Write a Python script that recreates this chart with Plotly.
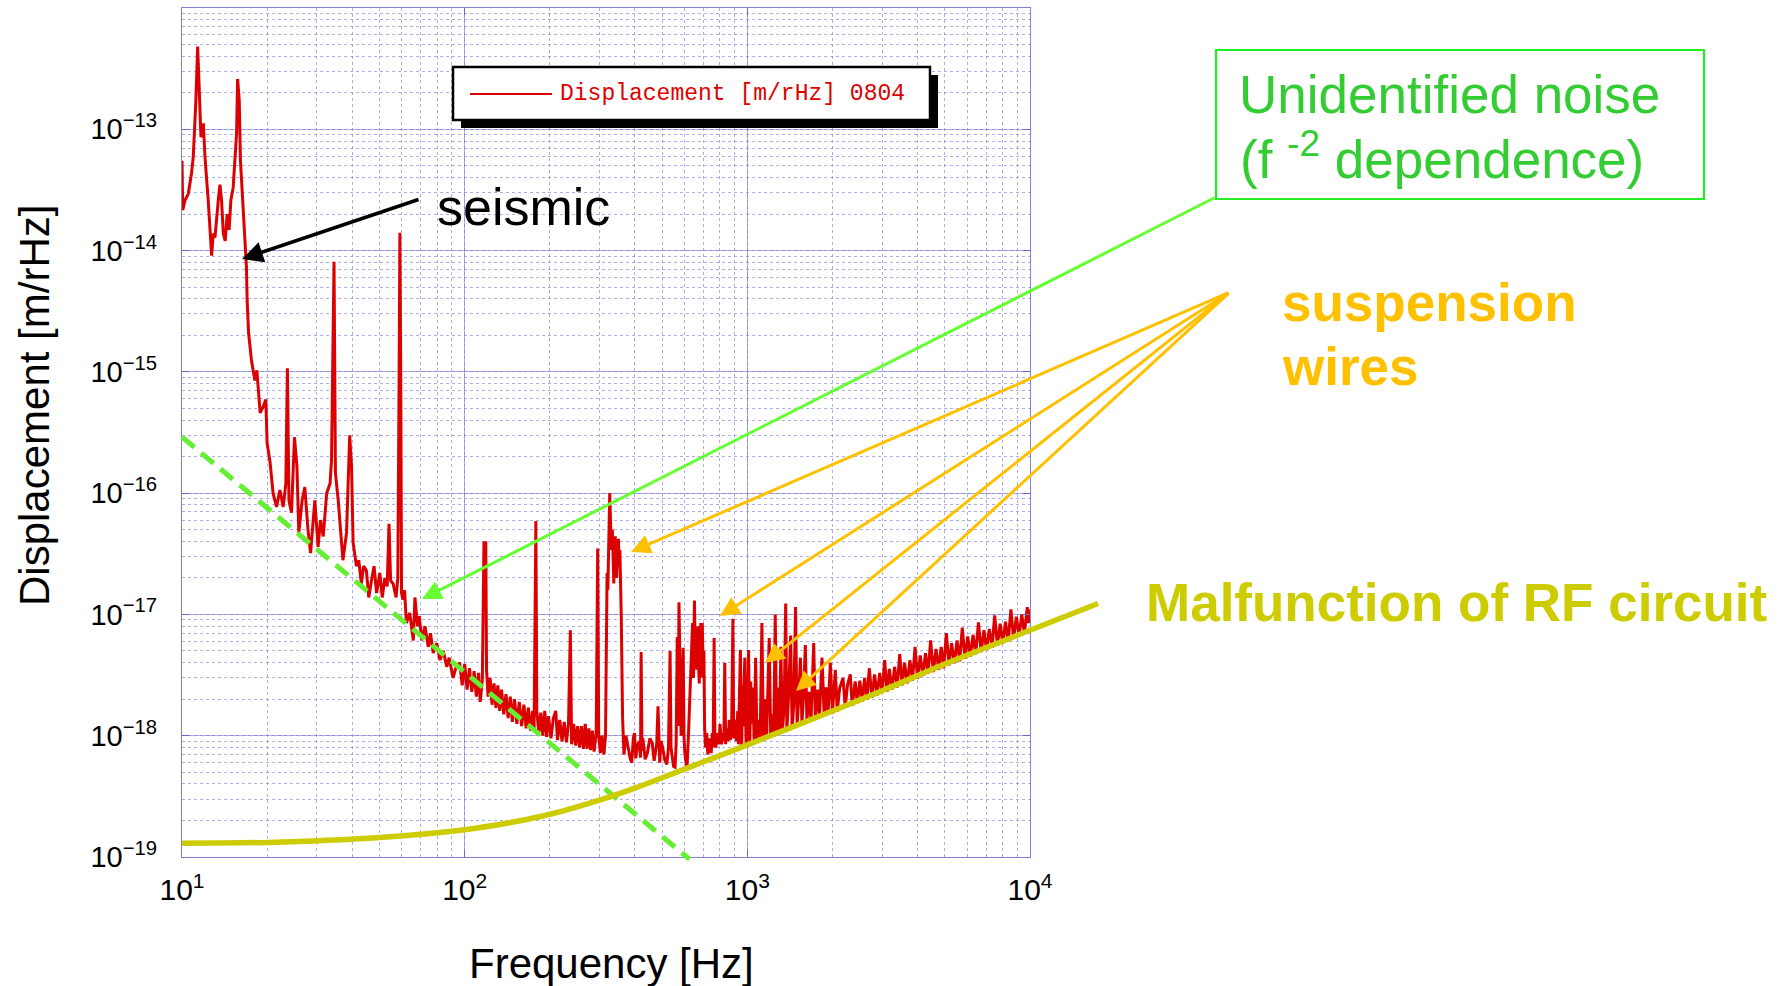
import plotly.graph_objects as go

W, H = 1780, 986

# ---------------- data ----------------
low_freq = [10.0, 10.06, 10.25, 10.53, 10.8, 10.96, 11.2, 11.36, 11.48, 11.67, 11.9, 12.06, 12.38, 12.73,
            12.9, 13.08, 13.44, 13.62, 13.8, 14.0, 14.22, 14.45, 14.68, 14.89, 15.17, 15.38, 15.6, 15.73,
            15.94, 16.1, 16.38, 16.7, 16.9, 17.0, 17.2, 17.6, 18.1, 18.4, 18.9, 19.4, 19.8, 20.0, 20.5,
            21.0, 21.6, 22.2, 22.8, 23.3, 23.6, 23.9, 24.4, 25.0, 25.5, 25.9, 26.6, 27.2, 27.9, 28.5,
            29.5, 30.3, 30.9, 31.6, 32.5, 33.4, 33.8, 34.5, 34.9, 35.7, 36.4, 37.1, 38.2, 38.7, 39.2,
            39.8, 40.3, 41.4, 42.2, 43.1, 43.9, 44.9, 45.8, 46.8, 47.8, 48.8, 50.1, 51.1, 52.2, 53.2,
            54.0, 54.7, 55.8, 57.2, 58.0, 58.6, 59.0, 59.4, 59.8, 60.5, 61.3, 62.2, 63.9, 65.8, 66.7,
            68.1, 69.1, 70.5, 72.4, 74.3, 75.7, 77.4, 79.6, 81.8, 84.0, 86.4, 88.1, 91.0, 93.3]
low_disp = [5.5e-14, 2.15e-14, 2.6e-14, 2.95e-14, 4.3e-14, 5.9e-14, 1.74e-13, 4.8e-13, 2.5e-13, 8.6e-14,
            1.12e-13, 5.9e-14, 2.6e-14, 9.1e-15, 1.38e-14, 1.28e-14, 2.6e-14, 3.5e-14, 2.6e-14, 1.38e-14,
            1.2e-14, 2.0e-14, 1.48e-14, 2.6e-14, 3.3e-14, 6.3e-14, 9.3e-14, 2.6e-13, 1.74e-13, 5.5e-14,
            2.6e-14, 1.07e-14, 7.4e-15, 3.9e-15, 2.1e-15, 1.26e-15, 8.5e-16, 1.03e-15, 4.6e-16, 5.2e-16,
            5.9e-16, 2.6e-16, 1.78e-16, 1.0e-16, 7.7e-17, 1.06e-16, 7.7e-17, 1.2e-16, 1.07e-15, 8.7e-17,
            6.9e-17, 2.9e-16, 1.66e-16, 4.7e-17, 8.7e-17, 1.12e-16, 5.0e-17, 3.2e-17, 8.7e-17, 3.6e-17,
            6.0e-17, 4.4e-17, 1.0e-16, 1.2e-16, 1.86e-16, 8.1e-15, 1.47e-16, 8.7e-17, 5.3e-17, 2.8e-17,
            4.7e-17, 1.47e-16, 3.0e-16, 1.66e-16, 3.9e-17, 2.5e-17, 2.8e-17, 1.8e-17, 2.5e-17, 2.3e-17,
            1.38e-17, 1.9e-17, 2.5e-17, 1.5e-17, 2.2e-17, 1.38e-17, 2.0e-17, 1.7e-17, 5.6e-17, 1.9e-17,
            1.8e-17, 1.38e-17, 2.0e-17, 8.1e-16, 1.4e-14, 1.0e-15, 1.5e-17, 1.32e-17, 1.58e-17, 8.5e-18,
            1.03e-17, 6.1e-18, 1.38e-17, 8.0e-18, 9.7e-18, 6.1e-18, 8.0e-18, 5.4e-18, 7.0e-18, 4.8e-18,
            5.8e-18, 4.2e-18, 5.0e-18, 3.7e-18, 4.4e-18, 3.0e-18, 3.7e-18]

mid_freq = [96, 98, 100, 102, 104, 106, 108, 110, 112, 113.5, 115.5, 117, 118.8, 119.5, 121, 123, 125,
            127, 129, 131, 133, 135, 137.5, 140, 142.5, 145, 147.5, 150, 153, 156, 159, 162, 165, 168,
            171, 174, 176, 177.3, 178.6, 180, 183, 186, 189, 192, 195, 198, 202, 206, 210, 213, 217,
            221, 225, 229, 233, 236.5, 239, 243, 247, 251, 255, 259, 263, 267, 271, 275, 279, 283, 287,
            292, 295.5, 298, 302, 306, 311, 315, 319, 321, 323, 326, 328, 330, 333, 335, 337, 339,
            341, 343, 345, 347, 350, 352, 354, 358, 362, 366, 372, 379, 385, 390, 395, 399, 403, 407,
            414, 419, 421, 424, 427, 435, 443, 452, 461, 468, 474, 478, 483, 487, 490, 495, 501, 510,
            519, 526, 533, 537, 541, 548, 555, 560, 565, 569, 573, 576, 579, 583, 587, 593, 597, 601,
            607, 612, 618, 622, 628, 634, 640, 645, 650, 654, 658, 662, 667, 672, 676, 680, 685, 688,
            693, 697, 702, 706, 711, 718, 725, 734, 745, 752, 757, 763, 768, 773, 785, 795, 800, 810,
            820, 826, 832, 838, 843, 855, 863, 870, 880, 889, 895, 905, 915, 925]
mid_disp = [4.0e-18, 2.6e-18, 3.9e-18, 2.4e-18, 3.6e-18, 2.3e-18, 3.4e-18, 2.1e-18, 3.3e-18, 1.9e-18,
            2.9e-18, 3.9e-17, 3.9e-17, 3.5e-18, 2.1e-18, 3.0e-18, 1.8e-18, 2.7e-18, 1.7e-18, 2.6e-18,
            1.6e-18, 2.4e-18, 1.5e-18, 2.2e-18, 1.4e-18, 2.1e-18, 1.3e-18, 2.0e-18, 1.25e-18, 1.9e-18,
            1.2e-18, 1.8e-18, 1.15e-18, 1.7e-18, 1.1e-18, 1.6e-18, 1.1e-18, 1.15e-17, 5.9e-17, 1.6e-18,
            1.05e-18, 1.55e-18, 1.0e-18, 1.6e-18, 0.98e-18, 1.45e-18, 0.95e-18, 1.4e-18, 1.6e-18, 0.92e-18,
            1.35e-18, 0.9e-18, 1.3e-18, 0.88e-18, 1.25e-18, 7.4e-18, 0.85e-18, 1.25e-18, 0.83e-18, 1.2e-18,
            0.8e-18, 1.2e-18, 0.78e-18, 1.25e-18, 0.78e-18, 1.15e-18, 0.76e-18, 1.1e-18, 0.74e-18, 1.05e-18,
            3.5e-17, 1.0e-18, 0.72e-18, 1.0e-18, 0.7e-18, 1.0e-18, 2.2e-17, 1.6e-17, 3.0e-17, 1.0e-16,
            6.0e-17, 3.4e-17, 5.0e-17, 2.4e-17, 1.8e-17, 3.5e-17, 4.4e-17, 2.3e-17, 2.0e-17, 3.0e-17,
            4.2e-17, 2.5e-17, 3.4e-17, 1.0e-17, 1.4e-18, 0.7e-18, 1.0e-18, 0.8e-18, 0.65e-18, 0.6e-18,
            0.95e-18, 1.05e-18, 0.65e-18, 0.8e-18, 0.9e-18, 0.66e-18, 4.9e-18, 0.75e-18, 0.95e-18, 0.64e-18,
            0.72e-18, 0.95e-18, 0.87e-18, 0.62e-18, 0.8e-18, 0.85e-18, 1.75e-18, 0.66e-18, 0.6e-18, 0.9e-18,
            0.81e-18, 0.64e-18, 0.58e-18, 0.8e-18, 5.0e-18, 0.8e-18, 0.7e-18, 0.56e-18, 0.55e-18, 0.85e-18,
            6.5e-18, 1.2e-18, 1.26e-17, 3.0e-18, 2.7e-18, 1.0e-18, 2.5e-18, 5.3e-18, 1.0e-18, 0.72e-18,
            0.6e-18, 0.56e-18, 0.9e-18, 1.4e-18, 1.9e-18, 4.0e-18, 8.5e-18, 3.0e-18, 1.3e-17, 5.0e-18,
            6.5e-18, 3.5e-18, 8.0e-18, 4.0e-18, 2.7e-18, 7.0e-18, 8.5e-18, 3.0e-18, 8.5e-18, 4.0e-18,
            5.0e-18, 1.2e-18, 0.8e-18, 1.05e-18, 0.7e-18, 0.95e-18, 0.72e-18, 1.05e-18, 0.8e-18, 6.4e-18,
            0.85e-18, 0.8e-18, 1.05e-18, 0.85e-18, 1.25e-18, 0.85e-18, 1.05e-18, 0.9e-18, 4.0e-18, 0.85e-18,
            1.15e-18, 0.9e-18, 1.35e-18, 0.92e-18, 1.15e-18, 9.2e-18, 0.95e-18, 1.35e-18, 0.9e-18, 1.6e-18]

high_freq = [930, 945, 955, 962, 968, 975, 980, 990, 1000, 1010, 1020, 1028, 1035, 1045, 1058, 1070, 1082,
             1095, 1110, 1126, 1140, 1155, 1170, 1195, 1210, 1225, 1240, 1255, 1270, 1285, 1300, 1314,
             1330, 1350, 1367, 1380, 1400, 1423, 1440, 1460, 1481, 1500, 1520, 1541, 1560, 1580, 1604,
             1625, 1650, 1680, 1717, 1740, 1770, 1800, 1837, 1870, 1900, 1930, 1966, 2000, 2047, 2080,
             2120, 2180, 2220, 2260, 2313, 2350, 2408, 2450, 2500, 2550, 2600, 2650, 2700, 2760, 2820,
             2880, 2940, 3000, 3060, 3120, 3180, 3250, 3320, 3390, 3460, 3530, 3600, 3680, 3760, 3840,
             3920, 4000, 4090, 4180, 4270, 4360, 4450, 4550, 4650, 4750, 4850, 4950, 5060, 5170, 5280,
             5400, 5520, 5640, 5760, 5890, 6020, 6150, 6290, 6430, 6570, 6720, 6870, 7020, 7180, 7340,
             7500, 7670, 7840, 8010, 8190, 8370, 8560, 8750, 8950, 9150, 9350, 9560, 9780, 9900, 10000]
high_disp = [0.85e-18, 5.1e-18, 0.78e-18, 2.6e-18, 1.2e-18, 3.0e-18, 4.4e-18, 0.8e-18, 1.15e-18, 5.1e-18,
             0.82e-18, 2.8e-18, 1.25e-18, 2.5e-18, 0.86e-18, 4.4e-18, 0.88e-18, 1.35e-18, 0.9e-18, 8.5e-18,
             0.93e-18, 2.0e-18, 0.95e-18, 6.4e-18, 0.98e-18, 1.5e-18, 1.0e-18, 1.0e-17, 1.03e-18, 2.5e-18,
             1.05e-18, 5.4e-18, 1.08e-18, 1.7e-18, 1.23e-17, 1.1e-18, 2.2e-18, 6.7e-18, 1.15e-18, 1.8e-18,
             1.15e-17, 1.2e-18, 2.0e-18, 4.4e-18, 1.25e-18, 2.1e-18, 5.6e-18, 1.3e-18, 2.3e-18, 1.33e-18,
             5.8e-18, 1.38e-18, 2.4e-18, 1.42e-18, 4.4e-18, 1.48e-18, 2.5e-18, 1.5e-18, 4.0e-18, 1.52e-18,
             3.5e-18, 1.58e-18, 2.45e-18, 3.0e-18, 1.7e-18, 2.6e-18, 3.2e-18, 1.76e-18, 2.8e-18, 1.85e-18,
             2.85e-18, 1.92e-18, 3.0e-18, 1.98e-18, 3.6e-18, 2.05e-18, 3.2e-18, 2.15e-18, 3.3e-18, 2.25e-18,
             4.2e-18, 2.3e-18, 3.55e-18, 2.4e-18, 3.7e-18, 2.5e-18, 4.7e-18, 2.6e-18, 4.0e-18, 2.7e-18,
             4.2e-18, 2.85e-18, 5.4e-18, 2.95e-18, 4.6e-18, 3.1e-18, 4.8e-18, 3.25e-18, 6.1e-18, 3.35e-18,
             5.2e-18, 3.5e-18, 5.4e-18, 3.6e-18, 7.0e-18, 3.8e-18, 5.8e-18, 3.95e-18, 6.1e-18, 4.1e-18,
             7.8e-18, 4.3e-18, 6.6e-18, 4.5e-18, 6.8e-18, 4.7e-18, 8.6e-18, 4.9e-18, 7.4e-18, 5.1e-18,
             7.6e-18, 5.3e-18, 9.8e-18, 5.55e-18, 8.4e-18, 5.75e-18, 8.7e-18, 6.0e-18, 1.1e-17, 6.3e-18,
             9.6e-18, 6.6e-18, 1.0e-17, 7.0e-18, 1.15e-17, 8.5e-18, 1.1e-17]

rf_freq = [10, 20, 50, 100, 150, 200, 300, 400, 500, 700, 1000, 2000, 3000, 5000, 10000, 17400]
rf_disp = [1.3e-19, 1.32e-19, 1.45e-19, 1.68e-19, 1.95e-19, 2.25e-19, 2.95e-19, 3.7e-19, 4.5e-19,
           6.1e-19, 8.4e-19, 1.6e-18, 2.35e-18, 3.9e-18, 7.4e-18, 1.23e-17]

fit_freq = [10, 624]
fit_disp = [2.9e-16, 9.6e-20]

x_tickvals = [10, 100, 1000, 10000]
x_ticktext = ["10<sup>1</sup>", "10<sup>2</sup>", "10<sup>3</sup>", "10<sup>4</sup>"]
y_tickvals = [1e-19, 1e-18, 1e-17, 1e-16, 1e-15, 1e-14, 1e-13]
y_ticktext = ["10<sup>\u221219</sup>", "10<sup>\u221218</sup>", "10<sup>\u221217</sup>",
              "10<sup>\u221216</sup>", "10<sup>\u221215</sup>", "10<sup>\u221214</sup>",
              "10<sup>\u221213</sup>"]

freq = low_freq + mid_freq + high_freq
disp = low_disp + mid_disp + high_disp

# ---------------- geometry ----------------
PL, PR, PT, PB = 182, 1030, 8, 857          # plot area in pixels
DEC_X = (PR - PL) / 3.0
DEC_Y = (PB - PT) / 7.0


def px(x):
    return x / W


def py(y):
    return 1 - y / H


FONT = "Liberation Sans, Arial, sans-serif"
TICKFONT = "Liberation Sans Narrow, Liberation Sans, Arial, sans-serif"
GRID = "rgba(120,120,215,0.6)"
GRID_MINOR = "rgba(120,120,215,0.6)"

fig = go.Figure()

fig.add_trace(go.Scatter(x=freq, y=disp, mode="lines", line=dict(color="#dd0000", width=3),
                         name="Displacement [m/rHz] 0804", showlegend=False, xaxis="x", yaxis="y"))
fig.add_trace(go.Scatter(x=fit_freq, y=fit_disp, mode="lines",
                         line=dict(color="#66ee33", width=5, dash="16px,9px"),
                         showlegend=False, xaxis="x2", yaxis="y2"))
fig.add_trace(go.Scatter(x=rf_freq, y=rf_disp, mode="lines", line=dict(color="#cccc00", width=5.5,
                         shape="spline", smoothing=0.8),
                         showlegend=False, xaxis="x2", yaxis="y2"))

x2_range = [1 - PL / DEC_X, 1 + (W - PL) / DEC_X]
y2_range = [-19 - (H - PB) / DEC_Y, -19 + PB / DEC_Y]

fig.update_layout(
    width=W, height=H, template="none",
    margin=dict(l=0, r=0, t=0, b=0, pad=0),
    paper_bgcolor="white", plot_bgcolor="rgba(0,0,0,0)",
    showlegend=False,
    xaxis=dict(type="log", range=[1, 4], domain=[PL / W, PR / W], anchor="y",
               tickmode="array", tickvals=x_tickvals, ticktext=x_ticktext,
               showgrid=True, gridcolor=GRID, gridwidth=1,
               minor=dict(dtick="D1", showgrid=True, gridcolor=GRID_MINOR, griddash="dot", gridwidth=1,
                          ticks=""),
               ticks="inside", ticklen=7, tickcolor="#6a6acc", tickwidth=1.3,
               showline=True, linecolor="#8080d0", linewidth=1.3, mirror="ticks",
               zeroline=False, ticklabelstandoff=6,
               tickfont=dict(family=TICKFONT, size=30, color="black")),
    yaxis=dict(type="log", range=[-19, -12], domain=[1 - PB / H, 1 - PT / H], anchor="x",
               tickmode="array", tickvals=y_tickvals, ticktext=y_ticktext,
               showgrid=True, gridcolor=GRID, gridwidth=1,
               minor=dict(dtick="D1", showgrid=True, gridcolor=GRID_MINOR, griddash="dot", gridwidth=1,
                          ticks=""),
               ticks="inside", ticklen=7, tickcolor="#6a6acc", tickwidth=1.3,
               showline=True, linecolor="#8080d0", linewidth=1.3, mirror="ticks",
               zeroline=False, ticklabelstandoff=18,
               tickfont=dict(family=TICKFONT, size=29, color="black")),
    xaxis2=dict(type="log", range=x2_range, domain=[0, 1], anchor="y2", visible=False,
                showgrid=False, zeroline=False),
    yaxis2=dict(type="log", range=y2_range, domain=[0, 1], anchor="x2", visible=False,
                showgrid=False, zeroline=False),
)

shapes = []
# legend box (shadow, frame, sample line)
shapes.append(dict(type="rect", xref="paper", yref="paper", x0=px(461), x1=px(938), y0=py(75), y1=py(128),
                   fillcolor="black", line=dict(width=0), layer="above"))
shapes.append(dict(type="rect", xref="paper", yref="paper", x0=px(453), x1=px(930), y0=py(67), y1=py(120),
                   fillcolor="white", line=dict(color="black", width=2.5), layer="above"))
shapes.append(dict(type="line", xref="paper", yref="paper", x0=px(470), x1=px(552), y0=py(94), y1=py(94),
                   line=dict(color="#dd0000", width=2), layer="above"))
# green box
shapes.append(dict(type="rect", xref="paper", yref="paper", x0=px(1216), x1=px(1704), y0=py(50), y1=py(199),
                   line=dict(color="#22ee22", width=2.2), fillcolor="rgba(0,0,0,0)", layer="above"))
fig.update_layout(shapes=shapes)

ann = []


def text(x, y, s, size, color, bold=False, xanchor="left", angle=0, family=FONT):
    ann.append(dict(xref="paper", yref="paper", x=px(x), y=py(y), text=s, showarrow=False,
                    xanchor=xanchor, yanchor="middle", textangle=angle,
                    font=dict(family=family, size=size, color=color, weight="bold" if bold else "normal")))


def arrow(tx, ty, sx, sy, color, width, size):
    ann.append(dict(xref="paper", yref="paper", x=px(tx), y=py(ty), ax=sx - tx, ay=sy - ty,
                    axref="pixel", ayref="pixel", text="", showarrow=True, arrowhead=2,
                    arrowsize=size, arrowwidth=width, arrowcolor=color, standoff=0, startstandoff=0,
                    font=dict(size=1)))


text(558, 94, "Displacement [m/rHz] 0804", 23, "#dd0000", family="Liberation Mono, DejaVu Sans Mono, monospace")
text(435, 207, "seismic", 52, "black")
text(1237, 95, "Unidentified noise", 53, "#33cc33")
text(1238, 156, "(f <sup>-2</sup> dependence)", 53, "#33cc33")
text(1280, 302, "suspension", 53, "#ffc000", bold=True)
text(1280, 366, "wires", 53, "#ffc000", bold=True)
text(1144, 602, "Malfunction of RF circuit", 53, "#cccc00", bold=True)
text(34, 406, "Displacement [m/rHz]", 42, "black", xanchor="center", angle=-90)
text(611, 963, "Frequency [Hz]", 42, "black", xanchor="center")

arrow(242, 259, 420, 199, "black", 3.5, 1.2)
arrow(422, 599, 1216, 197, "#66ff33", 3, 1.3)
for tx, ty in [(631, 552), (720, 616), (765, 663), (796, 691)]:
    arrow(tx, ty, 1230, 292, "#ffc000", 3, 1.3)

fig.update_layout(annotations=ann)

fig.write_html("out.html")
